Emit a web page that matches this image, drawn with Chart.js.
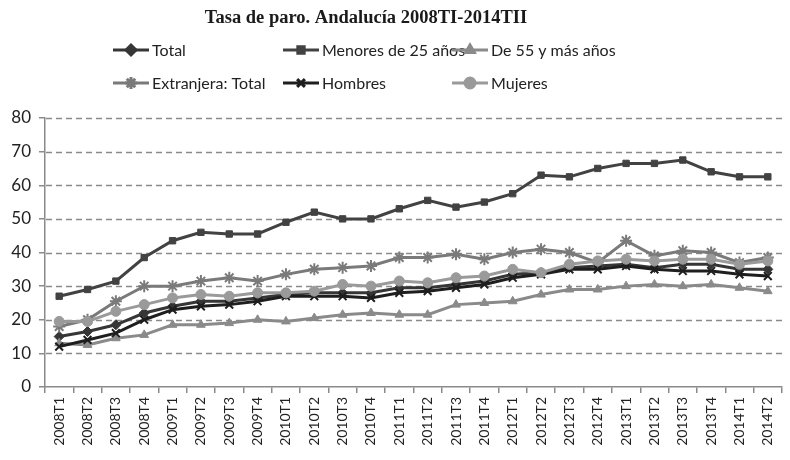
<!DOCTYPE html>
<html>
<head>
<meta charset="utf-8">
<script src="https://cdn.jsdelivr.net/npm/chart.js@4.4.1/dist/chart.umd.min.js"></script>
<style>
  html, body { margin: 0; padding: 0; background: #fff; }
  #wrap { width: 790px; height: 460px; position: relative; }
</style>
</head>
<body>
<div id="wrap"><canvas id="paro" width="790" height="460"></canvas></div>
<script>
var chartTitle = 'Tasa de paro. Andalucía 2008TI-2014TII';

var quarters = ['2008T1', '2008T2', '2008T3', '2008T4', '2009T1', '2009T2', '2009T3', '2009T4',
  '2010T1', '2010T2', '2010T3', '2010T4', '2011T1', '2011T2', '2011T3', '2011T4',
  '2012T1', '2012T2', '2012T3', '2012T4', '2013T1', '2013T2', '2013T3', '2013T4',
  '2014T1', '2014T2'];

var seriesNames = ['Total', 'Menores de 25 años', 'De 55 y más años', 'Extranjera: Total', 'Hombres', 'Mujeres'];

var total      = [15, 16.5, 18.5, 22, 24, 25.5, 25.5, 26.5, 27.5, 28, 28, 28, 29.5, 29.5, 30.5, 31.5, 33.5, 34, 35.5, 36, 36.5, 35.5, 36.5, 36.5, 35, 35];
var menores25  = [27, 29, 31.5, 38.5, 43.5, 46, 45.5, 45.5, 49, 52, 50, 50, 53, 55.5, 53.5, 55, 57.5, 63, 62.5, 65, 66.5, 66.5, 67.5, 64, 62.5, 62.5];
var mayores55  = [13, 12.5, 14.5, 15.5, 18.5, 18.5, 19, 20, 19.5, 20.5, 21.5, 22, 21.5, 21.5, 24.5, 25, 25.5, 27.5, 29, 29, 30, 30.5, 30, 30.5, 29.5, 28.5];
var extranjera = [18, 20, 25.5, 30, 30, 31.5, 32.5, 31.5, 33.5, 35, 35.5, 36, 38.5, 38.5, 39.5, 38, 40, 41, 40, 37, 43.5, 39, 40.5, 40, 37, 38.5];
var hombres    = [12, 14, 16, 20, 23, 24, 24.5, 25.5, 27, 27, 27, 26.5, 28, 28.5, 29.5, 30.5, 32.5, 33.5, 35, 35, 36, 35, 34.5, 34.5, 33.5, 33];
var mujeres    = [19.5, 19.5, 22.5, 24.5, 26.5, 27.5, 27, 28, 28, 28.5, 30.5, 30, 31.5, 31, 32.5, 33, 35, 34, 36.5, 37.5, 38, 37.5, 38, 38, 36.5, 37.5];

var yTicks = [0, 10, 20, 30, 40, 50, 60, 70, 80];

var seriesData = [total, menores25, mayores55, extranjera, hombres, mujeres];
var seriesColors = ['#363636', '#424242', '#8a8a8a', '#7a7a7a', '#1e1e1e', '#9a9a9a'];
var seriesMarkers = ['rectRot', 'rect', 'triangle', 'star', 'crossRot', 'circle'];
var markerSizes = [5, 4.5, 5, 6, 5.5, 5];

// legend grid positions (line start x, row y)
var legendSlots = [[113, 50], [283, 50], [452, 50], [113, 83], [283, 83], [452, 83]];

var datasets = [];
for (var i = 0; i < seriesNames.length; i++) {
  datasets.push({
    label: seriesNames[i],
    data: seriesData[i],
    borderColor: seriesColors[i],
    backgroundColor: seriesColors[i],
    pointBackgroundColor: seriesColors[i],
    pointBorderColor: seriesColors[i],
    pointStyle: seriesMarkers[i],
    pointRadius: markerSizes[i],
    pointBorderWidth: seriesMarkers[i] == 'star' || seriesMarkers[i] == 'crossRot' ? 2 : 1,
    borderWidth: 3,
    tension: 0,
    order: seriesNames.length - i
  });
}

// dashed horizontal gridlines, placed with the y scale
var dashedGrid = {
  id: 'dashedGrid',
  beforeDatasetsDraw: function (chart) {
    var ctx = chart.ctx, area = chart.chartArea, ys = chart.scales.y;
    ctx.save();
    ctx.strokeStyle = '#8a8a8a';
    ctx.lineWidth = 1.5;
    ctx.setLineDash([6, 4]);
    ys.ticks.forEach(function (t) {
      if (t.value === 0) return;
      var y = Math.round(ys.getPixelForValue(t.value)) + 0.5;
      ctx.beginPath();
      ctx.moveTo(area.left + 1, y);
      ctx.lineTo(area.right, y);
      ctx.stroke();
    });
    ctx.restore();
  }
};

// title + legend drawn by hand, Excel-style grid
var headerPlugin = {
  id: 'header',
  afterDraw: function (chart) {
    var ctx = chart.ctx;
    ctx.save();
    ctx.fillStyle = '#1a1a1a';
    ctx.font = 'bold 18.5px "Liberation Serif", "Times New Roman", serif';
    ctx.textAlign = 'center';
    ctx.textBaseline = 'middle';
    ctx.fillText(chartTitle, 366, 18);

    ctx.font = '16px Lato, "Open Sans", sans-serif';
    ctx.textAlign = 'left';
    chart.data.datasets.forEach(function (ds, k) {
      var x = legendSlots[k][0], y = legendSlots[k][1];
      ctx.strokeStyle = ds.borderColor;
      ctx.fillStyle = ds.borderColor;
      ctx.lineWidth = 3;
      ctx.beginPath();
      ctx.moveTo(x, y);
      ctx.lineTo(x + 36, y);
      ctx.stroke();
      Chart.helpers.drawPoint(ctx, {
        pointStyle: ds.pointStyle,
        radius: ds.pointRadius,
        borderWidth: ds.pointBorderWidth,
        rotation: 0
      }, x + 18, y);
      ctx.fillStyle = '#222';
      ctx.fillText(ds.label, x + 39, y + 1);
    });
    ctx.restore();
  }
};

new Chart(document.getElementById('paro'), {
  type: 'line',
  data: { labels: quarters, datasets: datasets },
  plugins: [dashedGrid, headerPlugin],
  options: {
    responsive: false,
    animation: false,
    layout: { padding: { top: 118, left: 0, right: 0, bottom: 0 } },
    plugins: {
      legend: { display: false },
      title: { display: false },
      tooltip: { enabled: false }
    },
    scales: {
      x: {
        offset: true,
        afterFit: function (scale) { scale.height = 73; },
        grid: {
          offset: true,
          drawOnChartArea: false,
          drawTicks: true,
          tickLength: 6,
          color: '#8a8a8a',
          lineWidth: 1.5
        },
        border: { color: '#8a8a8a', width: 1.5 },
        ticks: {
          minRotation: 90,
          maxRotation: 90,
          autoSkip: false,
          padding: 4,
          color: '#222',
          font: { family: 'Lato, "Open Sans", sans-serif', size: 14 }
        }
      },
      y: {
        min: 0,
        max: 80,
        afterFit: function (scale) { scale.width = 45; },
        afterBuildTicks: function (scale) {
          scale.ticks = yTicks.map(function (v) { return { value: v }; });
        },
        grid: {
          color: '#8a8a8a',
          lineWidth: 1.5,
          tickLength: 6,
          drawOnChartArea: false,
          drawTicks: true
        },
        border: { color: '#8a8a8a', width: 1.5 },
        ticks: {
          padding: 8,
          color: '#222',
          font: { family: 'Lato, "Open Sans", sans-serif', size: 17 }
        }
      }
    }
  }
});
</script>
</body>
</html>
